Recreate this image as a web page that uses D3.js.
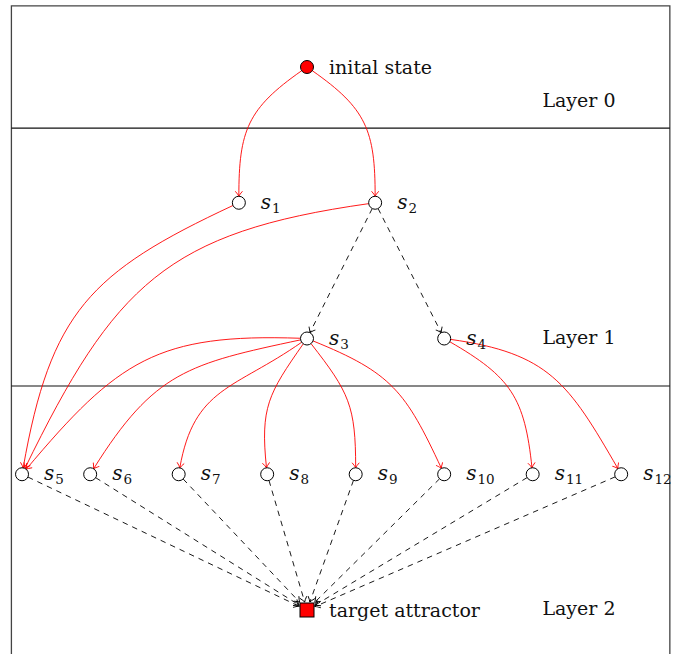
<!DOCTYPE html>
<html>
<head>
<meta charset="utf-8">
<script src="https://cdn.jsdelivr.net/npm/d3@7"></script>
<style>
  html, body { margin: 0; padding: 0; background: #fff; }
  svg { display: block; }
  .txt { font-family: "DejaVu Serif", serif; fill: #111; }
</style>
</head>
<body>
<div id="chart"></div>
<script>
// --- data ---------------------------------------------------------------
// node positions in diagram units (x: columns, level: rows)
const nodeIds    = ['init', 's1', 's2', 's3', 's4', 's5', 's6', 's7', 's8', 's9', 's10', 's11', 's12', 'target'];
const nodeX      = [0, -0.77, 0.77, 0, 1.55, -3.22, -2.45, -1.45, -0.45, 0.55, 1.55, 2.55, 3.55, 0];
const nodeLevel  = [0, 1, 1, 2, 2, 3, 3, 3, 3, 3, 3, 3, 3, 4];
const nodeKind   = ['start', 'state', 'state', 'state', 'state', 'state', 'state', 'state', 'state', 'state', 'state', 'state', 'state', 'attractor'];
const nodeText   = ['inital state', '1', '2', '3', '4', '5', '6', '7', '8', '9', '10', '11', '12', 'target attractor'];

// red bent transitions (tikz-like out / in angles, degrees)
const bentSource = ['init', 'init', 's1', 's2', 's3', 's3', 's3', 's3', 's3', 's3', 's4', 's4'];
const bentTarget = ['s1', 's2', 's5', 's5', 's5', 's6', 's7', 's8', 's9', 's10', 's11', 's12'];
const bentOut    = [-145, -35, 205, 188, 178, 192, 215, 235, -52, -22, -30, -8];
const bentIn     = [90, 90, 80, 64, 50, 58, 80, 96, 90, 115, 96, 120];

// black dashed transitions
const dashSource = ['s2', 's2', 's5', 's6', 's7', 's8', 's9', 's10', 's11', 's12'];
const dashTarget = ['s3', 's4', 'target', 'target', 'target', 'target', 'target', 'target', 'target', 'target'];

// layers
const layerNames  = ['Layer 0', 'Layer 1', 'Layer 2'];
const layerLabelY = [0.245, 1.99, 3.99];
const layerBreaks = [0.45, 2.35];

// --- layout -------------------------------------------------------------
const width = 684, height = 654;
const x = d3.scaleLinear().domain([0, 1]).range([307, 395.5]);
const y = d3.scaleLinear().domain([0, 1]).range([67, 202.75]);
const frame = { left: x(-3.34), right: x(4.1), top: y(-0.45), bottom: height + 10 };
const r = 6.5, half = 7;
const looseness = 1.2;

const nodes = nodeIds.map((id, i) => ({
  id, kind: nodeKind[i], text: nodeText[i], cx: x(nodeX[i]), cy: y(nodeLevel[i])
}));
const byId = new Map(nodes.map(n => [n.id, n]));

const svg = d3.select('#chart').append('svg')
  .attr('width', width)
  .attr('height', height);

// arrow markers
const defs = svg.append('defs');
[['red', '#f00'], ['black', '#000']].forEach(([name, color]) => {
  defs.append('marker')
    .attr('id', 'arrow-' + name)
    .attr('markerUnits', 'userSpaceOnUse')
    .attr('viewBox', '-7 -5 8 10')
    .attr('markerWidth', 8)
    .attr('markerHeight', 10)
    .attr('refX', 0)
    .attr('refY', 0)
    .attr('orient', 'auto')
    .append('path')
      .attr('d', 'M-5,-3.6 Q-1.8,-0.8 0,0 Q-1.8,0.8 -5,3.6')
      .attr('fill', 'none')
      .attr('stroke', color)
      .attr('stroke-width', 0.9);
});

// frame and layer separators
svg.append('path')
  .attr('d', `M${frame.left},${frame.bottom}V${frame.top}H${frame.right}V${frame.bottom}`)
  .attr('fill', 'none')
  .attr('stroke', '#444')
  .attr('stroke-width', 1.3);

svg.selectAll('.sep')
  .data(layerBreaks)
  .join('line')
    .attr('class', 'sep')
    .attr('x1', frame.left)
    .attr('x2', frame.right)
    .attr('y1', d => y(d))
    .attr('y2', d => y(d))
    .attr('stroke', '#111')
    .attr('stroke-width', 1.2);

svg.selectAll('.layer')
  .data(layerNames)
  .join('text')
    .attr('class', 'txt layer')
    .attr('x', x(2.66))
    .attr('y', (d, i) => y(layerLabelY[i]))
    .attr('dy', '0.36em')
    .attr('font-size', 19)
    .text(d => d);

// boundary point of a node in a given direction (screen coords)
function boundary(n, dx, dy) {
  const len = Math.hypot(dx, dy);
  const ux = dx / len, uy = dy / len;
  if (n.kind === 'attractor') {
    const t = Math.min(half / Math.max(Math.abs(ux), 1e-6), half / Math.max(Math.abs(uy), 1e-6)) + 1;
    return [n.cx + ux * t, n.cy + uy * t];
  }
  return [n.cx + ux * r, n.cy + uy * r];
}

const rad = a => a * Math.PI / 180;

// red bent edges (cubic bezier, tikz-style out/in controls)
const bent = bentSource.map((s, i) => {
  const a = byId.get(s), b = byId.get(bentTarget[i]);
  const o = rad(bentOut[i]), n = rad(bentIn[i]);
  const p0 = boundary(a, Math.cos(o), -Math.sin(o));
  const p3 = boundary(b, Math.cos(n), -Math.sin(n));
  const d = looseness * 0.3915 * Math.hypot(p3[0] - p0[0], p3[1] - p0[1]);
  const path = d3.path();
  path.moveTo(p0[0], p0[1]);
  path.bezierCurveTo(
    p0[0] + d * Math.cos(o), p0[1] - d * Math.sin(o),
    p3[0] + d * Math.cos(n), p3[1] - d * Math.sin(n),
    p3[0], p3[1]);
  return path.toString();
});

svg.selectAll('.bent')
  .data(bent)
  .join('path')
    .attr('class', 'bent')
    .attr('d', d => d)
    .attr('fill', 'none')
    .attr('stroke', '#f00')
    .attr('stroke-width', 0.9)
    .attr('marker-end', 'url(#arrow-red)');

// dashed straight edges
const dashed = dashSource.map((s, i) => {
  const a = byId.get(s), b = byId.get(dashTarget[i]);
  const p0 = boundary(a, b.cx - a.cx, b.cy - a.cy);
  const p1 = boundary(b, a.cx - b.cx, a.cy - b.cy);
  return { x1: p0[0], y1: p0[1], x2: p1[0], y2: p1[1] };
});

svg.selectAll('.dash')
  .data(dashed)
  .join('line')
    .attr('class', 'dash')
    .attr('x1', d => d.x1)
    .attr('y1', d => d.y1)
    .attr('x2', d => d.x2)
    .attr('y2', d => d.y2)
    .attr('stroke', '#000')
    .attr('stroke-width', 0.9)
    .attr('stroke-dasharray', '5.5,5')
    .attr('marker-end', 'url(#arrow-black)');

// nodes
svg.selectAll('.node')
  .data(nodes.filter(n => n.kind !== 'attractor'))
  .join('circle')
    .attr('class', 'node')
    .attr('cx', d => d.cx)
    .attr('cy', d => d.cy)
    .attr('r', r)
    .attr('fill', d => d.kind === 'start' ? '#f00' : '#fff')
    .attr('stroke', '#000')
    .attr('stroke-width', 1);

svg.selectAll('.attractor')
  .data(nodes.filter(n => n.kind === 'attractor'))
  .join('rect')
    .attr('class', 'attractor')
    .attr('x', d => d.cx - half)
    .attr('y', d => d.cy - half)
    .attr('width', half * 2)
    .attr('height', half * 2)
    .attr('fill', '#f00')
    .attr('stroke', '#000')
    .attr('stroke-width', 1);

// labels
const stateLabels = svg.selectAll('.slabel')
  .data(nodes.filter(n => n.kind === 'state'))
  .join('text')
    .attr('class', 'txt slabel')
    .attr('x', d => d.cx + 22)
    .attr('y', d => d.cy + 6);

stateLabels.append('tspan')
  .attr('font-style', 'italic')
  .attr('font-size', 20)
  .text('s');
stateLabels.append('tspan')
  .attr('font-size', 13.5)
  .attr('dx', 1)
  .attr('dy', 4)
  .text(d => d.text);

svg.selectAll('.plabel')
  .data(nodes.filter(n => n.kind !== 'state'))
  .join('text')
    .attr('class', 'txt plabel')
    .attr('x', d => d.cx + 22)
    .attr('y', d => d.cy)
    .attr('dy', '0.36em')
    .attr('font-size', 19)
    .text(d => d.text);
</script>
</body>
</html>
